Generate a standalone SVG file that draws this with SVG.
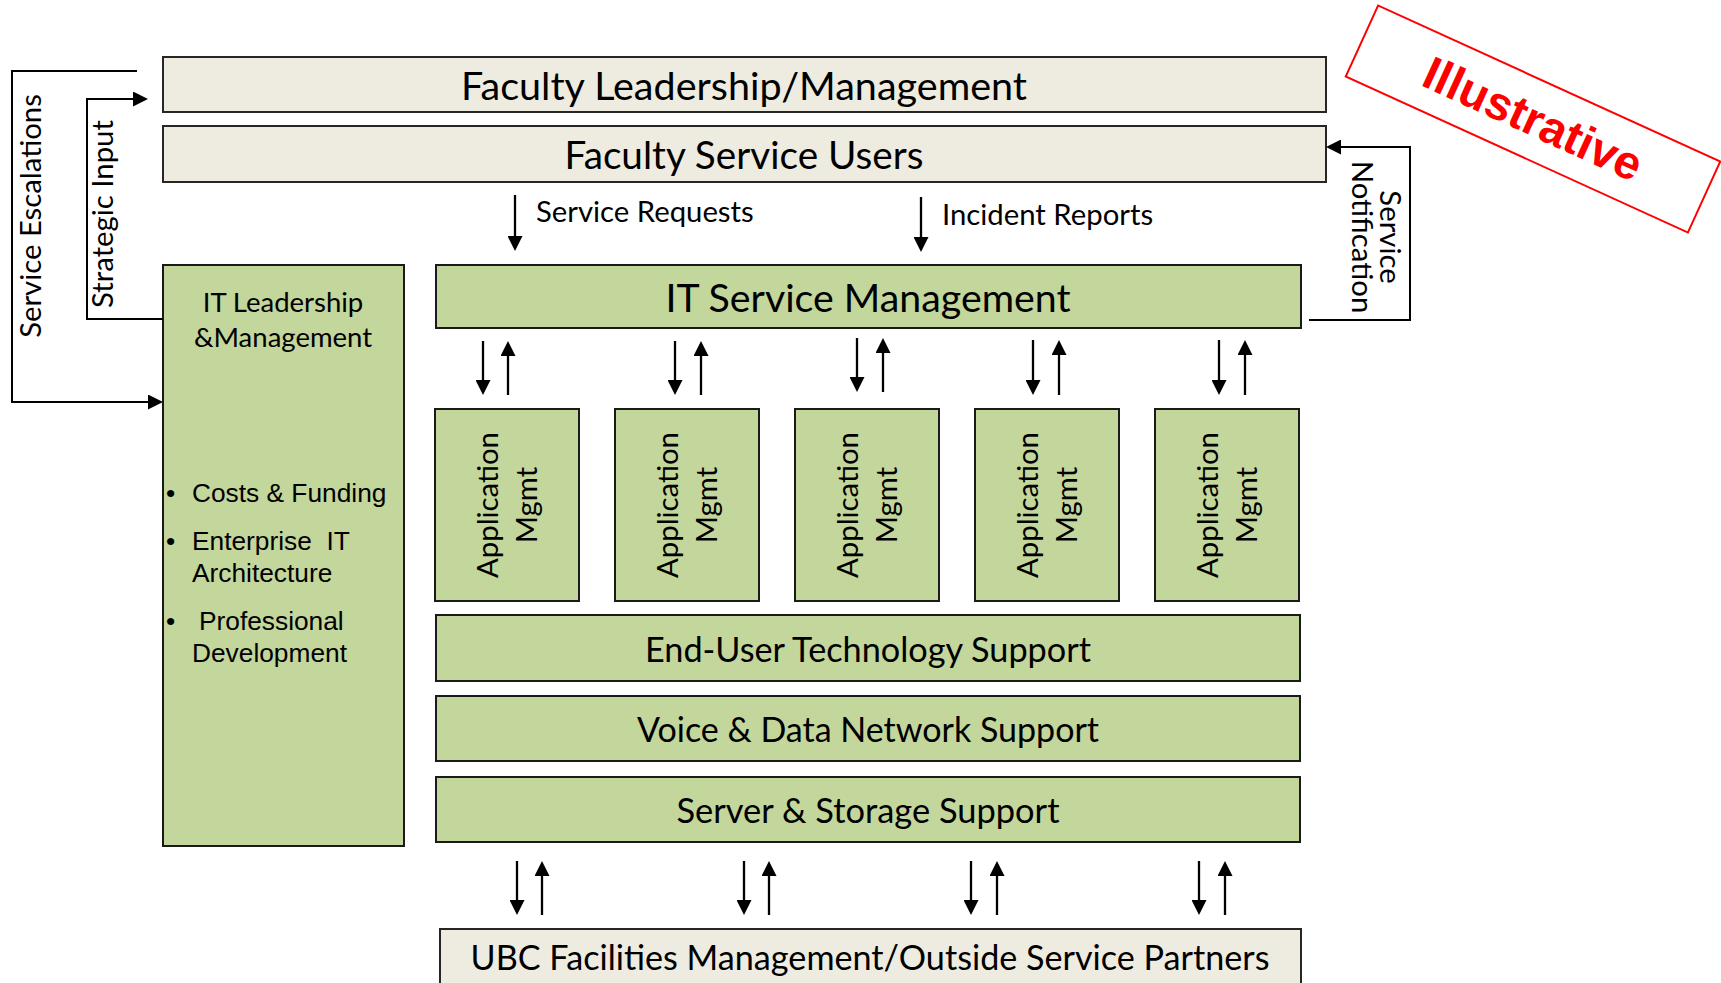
<svg xmlns="http://www.w3.org/2000/svg" width="1721" height="983" viewBox="0 0 1721 983">
<style>
.beige{fill:#EEECE1;stroke:#262626;stroke-width:2}
.green{fill:#C3D69B;stroke:#1a1a1a;stroke-width:2}
.t{font-family:Lato,"Liberation Sans",sans-serif;fill:#000}
.big{font-size:39.5px;text-anchor:middle}
.low{font-size:34.4px;text-anchor:middle}
.mid{font-size:29.3px}
.ctr{text-anchor:middle}
.arial{font-family:"Liberation Sans",Arial,sans-serif;font-size:26.3px;fill:#000;white-space:pre}
.ln{fill:none;stroke:#000;stroke-width:2}
.ar{fill:none;stroke:#000;stroke-width:2.3}
</style>
<defs>
<marker id="ah" viewBox="0 0 15 15" refX="5" refY="7.5" markerWidth="15" markerHeight="15" markerUnits="userSpaceOnUse" orient="auto">
<path d="M0,0 L15,7.5 L0,15 z" fill="#000"/>
</marker>
</defs>
<rect width="1721" height="983" fill="#fff"/>

<g id="faculty-leadership">
<rect class="beige" x="163" y="57" width="1163" height="55"/>
<text class="t big" x="744" y="100" textLength="566" lengthAdjust="spacingAndGlyphs">Faculty Leadership/Management</text>
</g>
<g id="faculty-users">
<rect class="beige" x="163" y="126" width="1163" height="56"/>
<text class="t big" x="744" y="169" textLength="359" lengthAdjust="spacingAndGlyphs">Faculty Service Users</text>
</g>
<g id="it-leadership">
<rect class="green" x="163" y="265" width="241" height="581"/>
<text class="t ctr" style="font-size:27.5px" x="283" y="312">IT Leadership</text>
<text class="t ctr" style="font-size:27.5px" x="283" y="347">&amp;Management</text>
<text class="arial" x="166" y="502">•</text>
<text class="arial" x="192" y="502">Costs &amp; Funding</text>
<text class="arial" x="166" y="550">•</text>
<text class="arial" x="192" y="550">Enterprise&#160; IT</text>
<text class="arial" x="192" y="582">Architecture</text>
<text class="arial" x="166" y="630">•</text>
<text class="arial" x="199" y="630">Professional</text>
<text class="arial" x="192" y="662">Development</text>
</g>
<g id="itsm">
<rect class="green" x="436" y="265" width="865" height="63"/>
<text class="t big" x="868" y="312" textLength="405" lengthAdjust="spacingAndGlyphs">IT Service Management</text>
</g>
<g id="app1">
<rect class="green" x="435" y="409" width="144" height="192"/>
<text class="t mid ctr" transform="translate(498,505) rotate(-90)">Application</text>
<text class="t mid ctr" transform="translate(537,505) rotate(-90)">Mgmt</text>
</g>
<g id="app2">
<rect class="green" x="615" y="409" width="144" height="192"/>
<text class="t mid ctr" transform="translate(678,505) rotate(-90)">Application</text>
<text class="t mid ctr" transform="translate(717,505) rotate(-90)">Mgmt</text>
</g>
<g id="app3">
<rect class="green" x="795" y="409" width="144" height="192"/>
<text class="t mid ctr" transform="translate(858,505) rotate(-90)">Application</text>
<text class="t mid ctr" transform="translate(897,505) rotate(-90)">Mgmt</text>
</g>
<g id="app4">
<rect class="green" x="975" y="409" width="144" height="192"/>
<text class="t mid ctr" transform="translate(1038,505) rotate(-90)">Application</text>
<text class="t mid ctr" transform="translate(1077,505) rotate(-90)">Mgmt</text>
</g>
<g id="app5">
<rect class="green" x="1155" y="409" width="144" height="192"/>
<text class="t mid ctr" transform="translate(1218,505) rotate(-90)">Application</text>
<text class="t mid ctr" transform="translate(1257,505) rotate(-90)">Mgmt</text>
</g>
<g id="end-user">
<rect class="green" x="436" y="615" width="864" height="66"/>
<text class="t low" x="868" y="662" textLength="446" lengthAdjust="spacingAndGlyphs">End-User Technology Support</text>
</g>
<g id="voice-data">
<rect class="green" x="436" y="696" width="864" height="65"/>
<text class="t low" x="868" y="742" textLength="462" lengthAdjust="spacingAndGlyphs">Voice &amp; Data Network Support</text>
</g>
<g id="server-storage">
<rect class="green" x="436" y="777" width="864" height="65"/>
<text class="t low" x="868" y="823" textLength="383" lengthAdjust="spacingAndGlyphs">Server &amp; Storage Support</text>
</g>
<g id="ubc">
<rect class="beige" x="440" y="929" width="861" height="70"/>
<text class="t low" x="870" y="970" textLength="799" lengthAdjust="spacingAndGlyphs">UBC Facilities Management/Outside Service Partners</text>
</g>

<g id="connectors">
<polyline class="ln" points="137,71 12,71 12,402 153,402" marker-end="url(#ah)"/>
<polyline class="ln" points="163,319 87,319 87,99 138,99" marker-end="url(#ah)"/>
<polyline class="ln" points="1309,320 1410,320 1410,147 1336,147" marker-end="url(#ah)"/>
<line class="ar" x1="515" y1="195" x2="515" y2="241" marker-end="url(#ah)"/>
<line class="ar" x1="921" y1="197" x2="921" y2="242" marker-end="url(#ah)"/>
<line class="ar" x1="483" y1="341" x2="483" y2="385" marker-end="url(#ah)"/>
<line class="ar" x1="508" y1="395" x2="508" y2="351" marker-end="url(#ah)"/>
<line class="ar" x1="675" y1="341" x2="675" y2="385" marker-end="url(#ah)"/>
<line class="ar" x1="701" y1="395" x2="701" y2="351" marker-end="url(#ah)"/>
<line class="ar" x1="857" y1="338" x2="857" y2="382" marker-end="url(#ah)"/>
<line class="ar" x1="883" y1="392" x2="883" y2="348" marker-end="url(#ah)"/>
<line class="ar" x1="1033" y1="340" x2="1033" y2="385" marker-end="url(#ah)"/>
<line class="ar" x1="1059" y1="395" x2="1059" y2="350" marker-end="url(#ah)"/>
<line class="ar" x1="1219" y1="340" x2="1219" y2="385" marker-end="url(#ah)"/>
<line class="ar" x1="1245" y1="395" x2="1245" y2="350" marker-end="url(#ah)"/>
<line class="ar" x1="517" y1="861" x2="517" y2="905" marker-end="url(#ah)"/>
<line class="ar" x1="542" y1="915" x2="542" y2="871" marker-end="url(#ah)"/>
<line class="ar" x1="744" y1="861" x2="744" y2="905" marker-end="url(#ah)"/>
<line class="ar" x1="769" y1="915" x2="769" y2="871" marker-end="url(#ah)"/>
<line class="ar" x1="971" y1="861" x2="971" y2="905" marker-end="url(#ah)"/>
<line class="ar" x1="997" y1="915" x2="997" y2="871" marker-end="url(#ah)"/>
<line class="ar" x1="1199" y1="861" x2="1199" y2="905" marker-end="url(#ah)"/>
<line class="ar" x1="1225" y1="915" x2="1225" y2="871" marker-end="url(#ah)"/>
</g>

<g id="labels">
<text class="t mid ctr" transform="translate(41,216) rotate(-90)">Service Escalations</text>
<text class="t mid ctr" transform="translate(113,214) rotate(-90)">Strategic Input</text>
<text class="t mid ctr" transform="translate(1380,237) rotate(90)">Service</text>
<text class="t mid ctr" transform="translate(1352,237) rotate(90)">Notification</text>
<text class="t mid" x="536" y="222">Service Requests</text>
<text class="t mid" x="942" y="225">Incident Reports</text>
</g>

<g id="illustrative" transform="translate(1533,119) rotate(24.5)">
<rect x="-188" y="-39" width="376" height="78" fill="none" stroke="#FF0000" stroke-width="2"/>
<text x="0" y="16" text-anchor="middle" font-family="'Liberation Sans',Arial,sans-serif" font-weight="bold" font-size="47" fill="#FF0000">Illustrative</text>
</g>
</svg>
